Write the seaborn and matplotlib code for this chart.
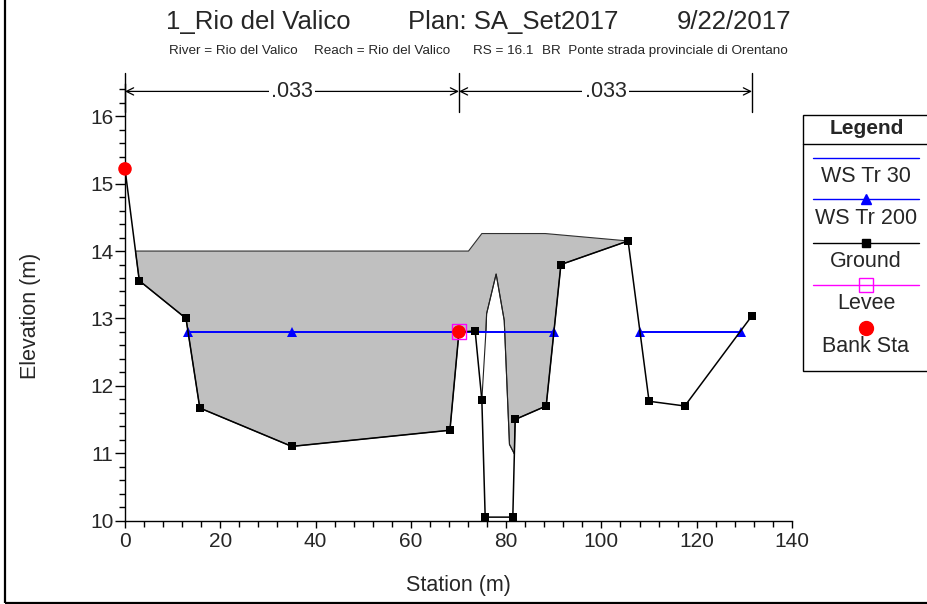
import numpy as np
import pandas as pd
import matplotlib
matplotlib.use("Agg")
import matplotlib.pyplot as plt
import seaborn as sns
from matplotlib.lines import Line2D
from matplotlib.patches import Rectangle, Polygon
from matplotlib.ticker import MultipleLocator

# ---------------- data ----------------
ground_sta = [0.0, 3.0, 12.8, 15.7, 35.0, 68.2, 70.1, 73.5, 74.9, 75.6, 81.4,
              81.9, 88.4, 91.5, 105.6, 110.0, 117.5, 131.6]
ground_elev = [15.22, 13.56, 13.0, 11.67, 11.1, 11.34, 12.8, 12.81, 11.79, 10.05,
               10.05, 11.5, 11.7, 13.8, 14.15, 11.77, 11.7, 13.04]
ws_sta = [13.24, 35.0, 90.0, 108.1, 129.2]
ws_seg = [1, 1, 1, 2, 2]
ws_elev = [12.8, 12.8, 12.8, 12.8, 12.8]
bank_sta = [0.0, 70.1]
bank_elev = [15.22, 12.8]
levee_sta = [70.1]
levee_elev = [12.8]
high_sta = [2.2, 72.1, 74.9, 88.2, 105.6]
high_elev = [14.0, 14.0, 14.26, 14.26, 14.15]
low_sta = [74.9, 75.75, 75.9, 77.9, 79.6, 80.7, 81.72]
low_elev = [11.79, 12.8, 13.07, 13.66, 12.97, 11.13, 10.99]
n_sta = [0.0, 70.1, 131.6]
n_vals = [".033", ".033"]
x_ticks = [0, 20, 40, 60, 80, 100, 120, 140]
y_ticks = [10, 11, 12, 13, 14, 15, 16]
legend_labels = ["WS Tr 30", "WS Tr 200", "Ground", "Levee", "Bank Sta"]

title_parts = ["1_Rio del Valico", "Plan: SA_Set2017", "9/22/2017"]
subtitle_parts = ["River = Rio del Valico", "Reach = Rio del Valico", "RS = 16.1",
                  "BR  Ponte strada provinciale di Orentano"]

# ---------------- style ----------------
sns.set_style("ticks")
plt.rcParams["font.family"] = ["Liberation Sans", "DejaVu Sans"]

W, H = 928, 604
fig = plt.figure(figsize=(W / 100, H / 100), dpi=100)


def fx(px):
    return px / W


def fy(py):
    return 1 - py / H


ax = fig.add_axes([fx(125), fy(520.5), fx(792) - fx(125), fy(84) - fy(520.5)])
ax.set_xlim(0, 140)
ax.set_ylim(10, 16.48)

# bridge deck polygon
def ground_between(lo, hi):
    return [(s, e) for s, e in zip(ground_sta, ground_elev) if lo < s < hi]

poly = (list(zip(high_sta, high_elev))
        + ground_between(low_sta[-1], high_sta[-1])[::-1]
        + list(zip(low_sta, low_elev))[1:][::-1]
        + ground_between(high_sta[0], low_sta[0])[::-1])
ax.add_patch(Polygon(poly, closed=True, facecolor="#c0c0c0",
                     edgecolor="#303030", linewidth=0.8, zorder=1))
ax.plot(low_sta, low_elev, color="#202020", linewidth=0.8, zorder=2)

# water surfaces
ws_df = pd.DataFrame({"sta": ws_sta, "elev": ws_elev, "seg": ws_seg})
sns.lineplot(data=ws_df, x="sta", y="elev", units="seg", estimator=None,
             sort=False, color="blue", linewidth=1.2, ax=ax, zorder=3)
sns.lineplot(data=ws_df, x="sta", y="elev", units="seg", estimator=None,
             sort=False, color="blue", linewidth=1.2, marker="^",
             markersize=7, markeredgewidth=0, ax=ax, zorder=4)

# ground
g_df = pd.DataFrame({"sta": ground_sta, "elev": ground_elev})
sns.lineplot(data=g_df, x="sta", y="elev", estimator=None, sort=False,
             color="black", linewidth=1.1, marker="s", markersize=5.3,
             markeredgewidth=0, ax=ax, zorder=5)

# levee and bank stations
ax.scatter(levee_sta, levee_elev, marker="s", s=115, facecolors="none",
           edgecolors="magenta", linewidths=1.0, zorder=6, clip_on=False)
sns.scatterplot(x=bank_sta, y=bank_elev, color="red", s=95, edgecolor="none",
                ax=ax, zorder=7, clip_on=False)

# Manning's n annotations
y_arrow = 16.37
for s in n_sta:
    ax.plot([s, s], [16.06, 16.65], color="black", linewidth=1.0,
            clip_on=False, zorder=8)
for i, v in enumerate(n_vals):
    a, b = n_sta[i], n_sta[i + 1]
    ax.annotate("", xy=(a, y_arrow), xytext=(b, y_arrow),
                arrowprops=dict(arrowstyle="<->", lw=0.9, color="black",
                                shrinkA=0, shrinkB=0, mutation_scale=13),
                annotation_clip=False)
    ax.text((a + b) / 2, y_arrow, v, ha="center", va="center", fontsize=15.5,
            bbox=dict(facecolor="white", edgecolor="none", pad=1.5), zorder=9)

# axes styling
sns.despine(ax=ax)
ax.set_xticks(x_ticks)
ax.set_yticks(y_ticks)
ax.xaxis.set_minor_locator(MultipleLocator(4))
ax.yaxis.set_minor_locator(MultipleLocator(0.2))
ax.tick_params(which="both", width=1, color="black", direction="out")
ax.tick_params(axis="x", which="major", length=5, labelsize=15, pad=3)
ax.tick_params(axis="y", which="major", length=7.2, labelsize=15, pad=1)
ax.tick_params(which="minor", length=4)
for sp in ax.spines.values():
    sp.set_color("black")
    sp.set_linewidth(1.0)
ax.set_xlabel("Station (m)", fontsize=15.5)
ax.set_ylabel("Elevation (m)", fontsize=15.5)
ax.xaxis.set_label_coords((458 - 125) / 667, (520.5 - 585) / 436.5)
ax.xaxis.label.set_va("center")
ax.yaxis.set_label_coords((30 - 125) / 667, (520.5 - 316) / 436.5)
ax.yaxis.label.set_va("center")
ax.set_facecolor("white")

# titles
for part, x0 in zip(title_parts, [166, 408, 677]):
    fig.text(fx(x0), fy(22), part, ha="left", va="center", fontsize=18.5)
for part, x0 in zip(subtitle_parts, [169, 314, 473, 542]):
    fig.text(fx(x0), fy(51), part, ha="left", va="center", fontsize=9.7)

# legend box
lx0, lx1, ly0, ly1 = 803, 940, 115, 371
fig.patches.append(Rectangle((fx(lx0), fy(ly1)), fx(lx1) - fx(lx0), fy(ly0) - fy(ly1),
                             transform=fig.transFigure, facecolor="white",
                             edgecolor="black", linewidth=1.0, zorder=10))
fig.lines.append(Line2D([fx(lx0), fx(lx1)], [fy(144), fy(144)],
                        transform=fig.transFigure, color="black", linewidth=1.0, zorder=11))
fig.text(fx(867), fy(129), "Legend", ha="center", va="center", fontsize=15,
         fontweight="bold", zorder=12)
lxa, lxb, lxc = 813, 919, 866
samples = [
    dict(y=157.7, color="blue", marker=None),
    dict(y=199.3, color="blue", marker="^", ms=7, mfc="blue", mec="blue"),
    dict(y=242.7, color="black", marker="s", ms=5.5, mfc="black", mec="black"),
    dict(y=285.0, color="magenta", marker="s", ms=10, mfc="none", mec="magenta"),
    dict(y=327.7, color=None, marker="o", ms=10, mfc="red", mec="red"),
]
label_y = [176.7, 218.3, 261.7, 303.3, 346.7]
for smp, lab, ty in zip(samples, legend_labels, label_y):
    if smp["color"] is not None:
        fig.lines.append(Line2D([fx(lxa), fx(lxb)], [fy(smp["y"])] * 2,
                                transform=fig.transFigure, color=smp["color"],
                                linewidth=1.0, zorder=11))
    if smp["marker"] is not None:
        fig.lines.append(Line2D([fx(lxc)], [fy(smp["y"])], transform=fig.transFigure,
                                marker=smp["marker"], markersize=smp["ms"],
                                markerfacecolor=smp["mfc"], markeredgecolor=smp["mec"],
                                markeredgewidth=1.0, linestyle="none", zorder=12))
    fig.text(fx(lxc), fy(ty), lab, ha="center", va="center", fontsize=15.5, zorder=12)

# outer frame
fig.patches.append(Rectangle((fx(5), fy(602.5)), 2, 2, transform=fig.transFigure,
                             facecolor="none", edgecolor="black", linewidth=1.6,
                             zorder=20))

fig.savefig("out.png", dpi=100)
